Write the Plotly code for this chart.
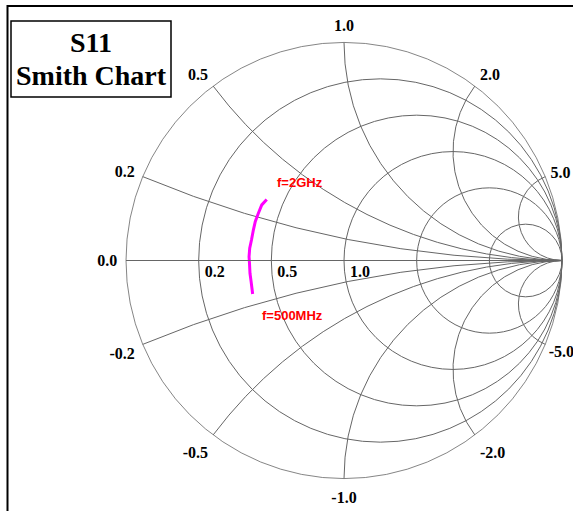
import plotly.graph_objects as go

# Normalized impedance (f = 500 MHz ... 2 GHz)
z_real = [0.393, 0.395, 0.396, 0.395, 0.395, 0.393, 0.394, 0.398, 0.399, 0.399, 0.402, 0.402, 0.404, 0.416]
z_imag = [-0.151, -0.125, -0.095, -0.057, -0.012, 0.017, 0.055, 0.092, 0.138, 0.178, 0.218, 0.218, 0.260, 0.293]

real_grid = [0.2, 0.5, 1, 2, 5]
real_labels = [0.2, 0.5, 1]
imag_grid = [-5, -2, -1, -0.5, -0.2, 0, 0.2, 0.5, 1, 2, 5]
imag_labels = [-2, -1, -0.5, -0.2, 0, 0.2, 0.5, 1, 2]
imag_label_top = [5]
imag_label_bottom = [-5]

W, H = 573, 511
cx, cy, R = 344, 260.5, 218

def px(x):
    return x / W

def py(y):
    return 1 - y / H

dom_x = [px(cx - R), px(cx + R)]
dom_y = [py(cy + R), py(cy - R)]

tickfont = dict(family="Liberation Serif", size=16, color="black", weight="bold")
grid = "#666666"
hidden = dict(showgrid=False, showline=False, showticklabels=False, ticks="")

def label_axis(vals, ticklen):
    return dict(tickvals=vals, tickformat=".1f", tickfont=tickfont,
                showgrid=False, showline=False,
                ticks="outside", ticklen=ticklen, tickcolor="rgba(0,0,0,0)")

fig = go.Figure()
fig.add_trace(go.Scattersmith(
    real=z_real, imag=z_imag, mode="lines",
    line=dict(color="#ff00ff", width=3), subplot="smith", showlegend=False,
))
# empty helper traces for the overlaid label-only subplots
for sp in ["smith2", "smith3", "smith4"]:
    fig.add_trace(go.Scattersmith(real=[1], imag=[0], mode="markers", marker=dict(opacity=0),
                                  subplot=sp, showlegend=False, hoverinfo="skip"))

fig.update_layout(
    width=W, height=H,
    margin=dict(l=0, r=0, t=0, b=0),
    paper_bgcolor="white",
    showlegend=False,
    smith=dict(
        domain=dict(x=dom_x, y=dom_y),
        bgcolor="rgba(0,0,0,0)",
        realaxis=dict(tickvals=real_grid, showticklabels=False, gridcolor=grid,
                      gridwidth=0.8, linecolor=grid, ticks=""),
        imaginaryaxis=dict(tickvals=imag_grid, showticklabels=False,
                           gridcolor=grid, gridwidth=0.8, linecolor=grid, linewidth=0.8,
                           ticks=""),
    ),
    smith2=dict(
        domain=dict(x=dom_x, y=dom_y),
        bgcolor="rgba(0,0,0,0)",
        realaxis=dict(tickvals=real_labels, tickformat=".1f", tickfont=tickfont,
                      tickprefix="\u2002\u2002\u2002\u2002", showtickprefix="all",
                      showgrid=False, showline=False, ticks="", tickangle=0, side="bottom"),
        imaginaryaxis=label_axis(imag_labels, 5),
    ),
    smith3=dict(
        domain=dict(x=dom_x, y=dom_y),
        bgcolor="rgba(0,0,0,0)",
        realaxis=hidden,
        imaginaryaxis=label_axis(imag_label_top, 2),
    ),
    smith4=dict(
        domain=dict(x=dom_x, y=dom_y),
        bgcolor="rgba(0,0,0,0)",
        realaxis=hidden,
        imaginaryaxis=label_axis(imag_label_bottom, 0),
    ),
)

# outer frame (extends past right/bottom edges)
fig.add_shape(type="rect", xref="paper", yref="paper",
              x0=px(7.5), x1=px(W + 20), y0=py(H + 20), y1=py(6),
              line=dict(color="black", width=2))
# title box
fig.add_shape(type="rect", xref="paper", yref="paper",
              x0=px(11), x1=px(171), y0=py(97), y1=py(21),
              line=dict(color="black", width=1.5))
title_font = dict(family="Liberation Serif", size=28, color="black", weight="bold")
fig.add_annotation(x=px(91), y=py(42), xref="paper", yref="paper", text="S11",
                   xanchor="center", yanchor="middle", showarrow=False, font=title_font)
fig.add_annotation(x=px(91), y=py(75), xref="paper", yref="paper", text="Smith Chart",
                   xanchor="center", yanchor="middle", showarrow=False, font=title_font)

lab_font = dict(family="Liberation Sans", size=13, color="#ff0000", weight="bold")
fig.add_annotation(x=px(300), y=py(182), xref="paper", yref="paper", text="f=2GHz",
                   xanchor="center", yanchor="middle", showarrow=False, font=lab_font)
fig.add_annotation(x=px(292), y=py(315), xref="paper", yref="paper", text="f=500MHz",
                   xanchor="center", yanchor="middle", showarrow=False, font=lab_font)

post = """
document.body.style.margin='0';
document.querySelectorAll('text').forEach(function(t){
  var s = t.textContent;
  if (s.trim() === '\\u221e') { t.parentNode.removeChild(t); return; }
  if (s.indexOf('\\u2212') >= 0) { t.textContent = s.replace(/\\u2212/g, '-'); }
});
"""
fig.write_html("out.html", post_script=post, config={"displayModeBar": False})
